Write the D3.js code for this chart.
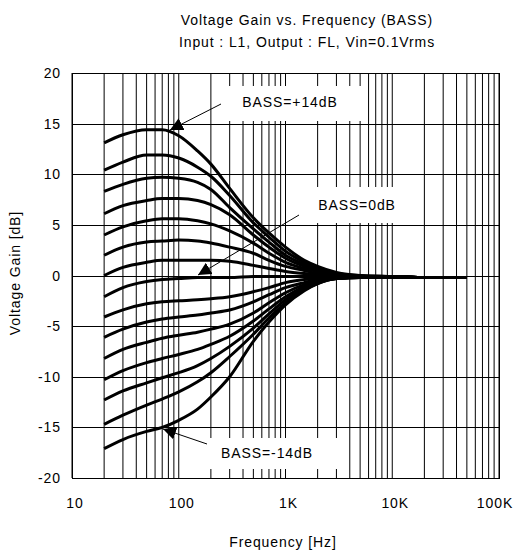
<!DOCTYPE html>
<html>
<head>
<meta charset="utf-8">
<script src="https://cdnjs.cloudflare.com/ajax/libs/d3/7.8.5/d3.min.js"></script>
<style>
body { margin: 0; background: #fff; }
text { font-family: "Liberation Sans", Arial, sans-serif; fill: #000; }
.wide { letter-spacing: 0.9px; }
</style>
</head>
<body>
<script>
// frequency points (Hz) where each curve was read
var freqs = [20, 30, 50, 70, 100, 150, 200, 300, 500, 700, 1000, 1500, 2000, 3000, 5000, 10000, 20000, 50000];

// gain [dB] per BASS setting
var bassP14 = [13.1, 13.9, 14.4, 14.4, 13.8, 12.3, 11.0, 8.6, 5.7, 4.2, 2.8, 1.5, 0.9, 0.3, 0.0, -0.1, -0.2, -0.2];
var bassP12 = [10.4, 11.2, 11.9, 11.9, 11.6, 10.7, 9.8, 7.9, 5.2, 3.8, 2.4, 1.3, 0.7, 0.2, 0.0, -0.1, -0.2, -0.2];
var bassP10 = [8.3, 9.0, 9.6, 9.7, 9.6, 9.2, 8.5, 6.7, 4.6, 3.3, 2.0, 1.1, 0.6, 0.2, -0.1, -0.1, -0.2, -0.2];
var bassP8  = [6.1, 6.9, 7.4, 7.6, 7.6, 7.4, 7.0, 6.0, 4.0, 2.8, 1.7, 0.9, 0.5, 0.1, -0.1, -0.1, -0.2, -0.2];
var bassP6  = [4.0, 4.8, 5.4, 5.6, 5.6, 5.4, 5.1, 4.4, 3.2, 2.2, 1.3, 0.7, 0.4, 0.1, -0.1, -0.1, -0.2, -0.2];
var bassP4  = [2.0, 2.8, 3.3, 3.4, 3.5, 3.4, 3.2, 2.8, 2.2, 1.5, 0.9, 0.5, 0.2, 0.0, -0.1, -0.1, -0.2, -0.2];
var bassP2  = [0.0, 0.8, 1.3, 1.5, 1.5, 1.5, 1.5, 1.4, 1.0, 0.7, 0.4, 0.2, 0.1, 0.0, -0.1, -0.1, -0.2, -0.2];
var bass0   = [-2.1, -1.2, -0.6, -0.4, -0.3, -0.2, -0.2, -0.2, -0.1, -0.1, -0.1, -0.1, -0.1, -0.1, -0.1, -0.1, -0.2, -0.2];
var bassM2  = [-4.1, -3.4, -2.8, -2.6, -2.5, -2.4, -2.3, -2.1, -1.6, -1.2, -0.7, -0.4, -0.3, -0.2, -0.2, -0.2, -0.2, -0.2];
var bassM4  = [-6.1, -5.3, -4.6, -4.3, -4.1, -3.9, -3.7, -3.4, -2.6, -1.9, -1.2, -0.7, -0.4, -0.2, -0.2, -0.2, -0.2, -0.2];
var bassM6  = [-8.2, -7.3, -6.6, -6.2, -5.9, -5.6, -5.3, -4.8, -3.7, -2.7, -1.7, -0.9, -0.5, -0.3, -0.2, -0.2, -0.2, -0.2];
var bassM8  = [-10.3, -9.4, -8.6, -8.2, -7.8, -7.3, -6.8, -6.0, -4.5, -3.3, -2.1, -1.1, -0.6, -0.3, -0.2, -0.2, -0.2, -0.2];
var bassM10 = [-12.3, -11.4, -10.6, -10.1, -9.6, -8.9, -8.2, -7.0, -5.2, -3.8, -2.4, -1.3, -0.7, -0.3, -0.2, -0.2, -0.2, -0.2];
var bassM12 = [-14.7, -13.8, -12.8, -12.2, -11.5, -10.5, -9.6, -8.0, -5.8, -4.2, -2.7, -1.4, -0.8, -0.3, -0.2, -0.2, -0.2, -0.2];
var bassM14 = [-17.1, -16.2, -15.4, -15.0, -14.3, -13.2, -12.0, -10.0, -6.5, -4.6, -2.9, -1.5, -0.8, -0.3, -0.2, -0.2, -0.2, -0.2];

var curves = [bassP14, bassP12, bassP10, bassP8, bassP6, bassP4, bassP2, bass0,
              bassM2, bassM4, bassM6, bassM8, bassM10, bassM12, bassM14];

var yTicks = [-20, -15, -10, -5, 0, 5, 10, 15, 20];
var xDecades = [10, 100, 1000, 10000, 100000];
var xLabels = ["10", "100", "1K", "10K", "100K"];

var width = 518, height = 553;
var plot = {left: 72, right: 499, top: 73, bottom: 478};

var svg = d3.select("body").append("svg")
    .attr("width", width)
    .attr("height", height);

var x = d3.scaleLog().domain([10, 100000]).range([plot.left, plot.right]);
var y = d3.scaleLinear().domain([-20, 20]).range([plot.bottom, plot.top]);

// titles
svg.append("text").attr("class", "wide").attr("x", 307).attr("y", 25).attr("text-anchor", "middle")
    .style("font-size", "14px").text("Voltage Gain vs. Frequency (BASS)");
svg.append("text").attr("class", "wide").attr("x", 307).attr("y", 47).attr("text-anchor", "middle")
    .style("font-size", "14px").text("Input : L1, Output : FL, Vin=0.1Vrms");

// vertical grid (every 1..9 multiple)
svg.append("g").selectAll("line")
    .data(x.ticks())
    .enter().append("line")
    .attr("x1", function(d) { return x(d); })
    .attr("x2", function(d) { return x(d); })
    .attr("y1", plot.top).attr("y2", plot.bottom)
    .attr("stroke", "#000").attr("stroke-width", 1);

// horizontal grid
svg.append("g").selectAll("line")
    .data(yTicks)
    .enter().append("line")
    .attr("x1", plot.left).attr("x2", plot.right)
    .attr("y1", function(d) { return Math.round(y(d)) + 0.5; })
    .attr("y2", function(d) { return Math.round(y(d)) + 0.5; })
    .attr("stroke", "#000").attr("stroke-width", 1);

// frame
svg.append("rect")
    .attr("x", plot.left + 0.5).attr("y", plot.top + 0.5)
    .attr("width", plot.right - plot.left).attr("height", plot.bottom - plot.top)
    .attr("fill", "none").attr("stroke", "#000");

// y tick labels
svg.append("g").selectAll("text")
    .data(yTicks)
    .enter().append("text")
    .attr("class", "wide")
    .attr("x", 61)
    .attr("y", function(d) { return y(d) + 5; })
    .attr("text-anchor", "end")
    .style("font-size", "14px")
    .text(function(d) { return d; });

// x tick labels
svg.append("g").selectAll("text")
    .data(xDecades)
    .enter().append("text")
    .attr("class", "wide")
    .attr("x", function(d) { return Math.min(x(d) + 3, 495); })
    .attr("y", 508)
    .attr("text-anchor", "middle")
    .style("font-size", "14px")
    .text(function(d, i) { return xLabels[i]; });

// axis titles
svg.append("text").attr("class", "wide").attr("x", 283).attr("y", 547).attr("text-anchor", "middle")
    .style("font-size", "14px").text("Frequency [Hz]");
svg.append("text").attr("class", "wide")
    .attr("transform", "translate(20,273) rotate(-90)")
    .attr("text-anchor", "middle")
    .style("font-size", "14px").text("Voltage Gain [dB]");

// label boxes hide grid behind them
var notes = [
  {text: "BASS=+14dB", box: [222, 86, 142, 35], tx: 290, ty: 107, from: [221, 104], to: [170, 130]},
  {text: "BASS=0dB",   box: [300, 187, 102, 36], tx: 357, ty: 210, from: [299, 215], to: [198, 275]},
  {text: "BASS=-14dB", box: [207, 438, 135, 31], tx: 267, ty: 458, from: [207, 444], to: [163, 429]}
];

svg.append("g").selectAll("rect")
    .data(notes)
    .enter().append("rect")
    .attr("x", function(d) { return d.box[0]; })
    .attr("y", function(d) { return d.box[1]; })
    .attr("width", function(d) { return d.box[2]; })
    .attr("height", function(d) { return d.box[3]; })
    .attr("fill", "#fff");

// curves
var line = d3.line()
    .x(function(d, i) { return x(freqs[i]); })
    .y(function(d) { return y(d); })
    .curve(d3.curveMonotoneX);

svg.append("g").selectAll("path")
    .data(curves)
    .enter().append("path")
    .attr("d", line)
    .attr("fill", "none")
    .attr("stroke", "#000")
    .attr("stroke-width", 3);

// arrows
svg.append("defs").append("marker")
    .attr("id", "tri")
    .attr("markerUnits", "userSpaceOnUse")
    .attr("viewBox", "0 0 12 12")
    .attr("refX", 12).attr("refY", 6)
    .attr("markerWidth", 13).attr("markerHeight", 13)
    .attr("orient", "auto")
    .append("path").attr("d", "M0,0L12,6L0,12Z").attr("fill", "#000");

svg.append("g").selectAll("line")
    .data(notes)
    .enter().append("line")
    .attr("x1", function(d) { return d.from[0]; })
    .attr("y1", function(d) { return d.from[1]; })
    .attr("x2", function(d) { return d.to[0]; })
    .attr("y2", function(d) { return d.to[1]; })
    .attr("stroke", "#000").attr("stroke-width", 1)
    .attr("marker-end", "url(#tri)");

svg.append("g").selectAll("text")
    .data(notes)
    .enter().append("text")
    .attr("class", "wide")
    .attr("x", function(d) { return d.tx; })
    .attr("y", function(d) { return d.ty; })
    .attr("text-anchor", "middle")
    .style("font-size", "14px")
    .text(function(d) { return d.text; });
</script>
</body>
</html>
